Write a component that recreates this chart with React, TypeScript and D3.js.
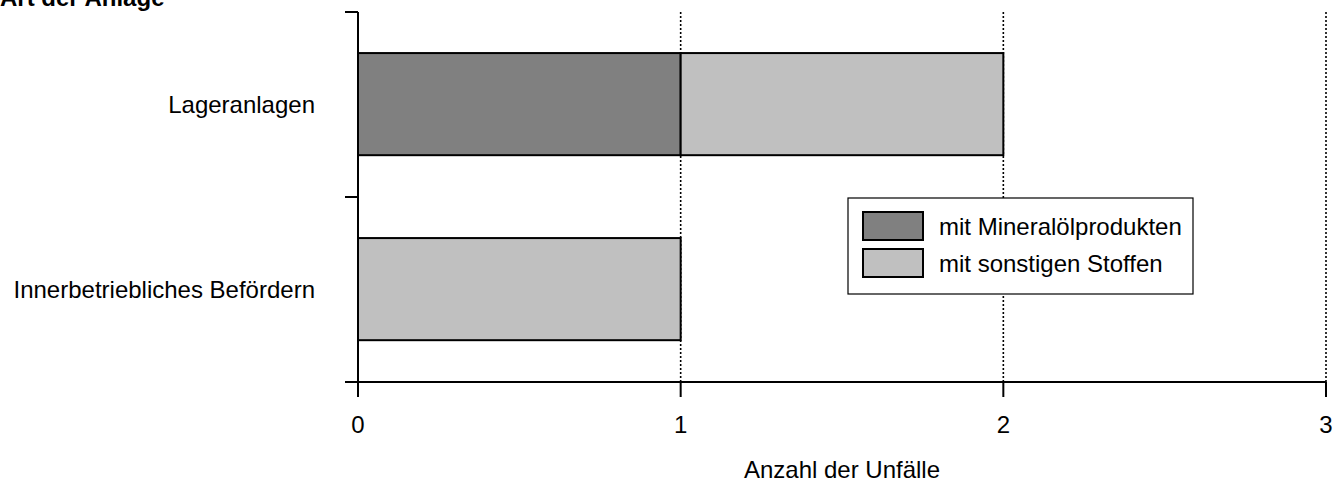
import React from "react";
import * as d3 from "d3";

const categories = ["Lageranlagen", "Innerbetriebliches Befördern"];
const seriesNames = ["mit Mineralölprodukten", "mit sonstigen Stoffen"];
const mineraloel = [1, 0];
const sonstige = [1, 1];
const xTicks = [0, 1, 2, 3];
const seriesColors = ["#808080", "#c0c0c0"];

const W = 1335;
const H = 483;
const FONT = "'Liberation Sans', Arial, sans-serif";

export default function App() {
  const x = d3.scaleLinear().domain([0, 3]).range([358, 1326]);
  const y = d3.scaleBand<string>().domain(categories).range([12, 382]).padding(0);
  const bw = y.bandwidth();
  const barInset = bw * 0.222;
  const barH = bw * 0.552;

  const stack = d3.stack<number>().keys(["0", "1"]).value((i, k) => (k === "0" ? mineraloel[i] : sonstige[i]));
  const stacked = stack(categories.map((_, i) => i));

  const yBounds = [12, 12 + bw, 382];

  return (
    <svg width={W} height={H} style={{ position: "absolute", left: 0, top: 0, background: "#fff" }} fontFamily={FONT}>
      <text x={0} y={6} fontSize={24} fontWeight="bold" fill="#000">Art der Anlage</text>

      {/* grid lines */}
      {xTicks.filter((t) => t > 0).map((t) => (
        <line key={"g" + t} x1={x(t)} x2={x(t)} y1={12} y2={382} stroke="#000" strokeWidth={1.6} strokeDasharray="2,2" />
      ))}

      {/* bars */}
      {stacked.map((layer, si) =>
        layer.map((d, ci) => {
          const w = x(d[1]) - x(d[0]);
          if (w <= 0) return null;
          return (
            <rect key={si + "-" + ci} x={x(d[0])} y={(y(categories[ci]) as number) + barInset} width={w} height={barH}
              fill={seriesColors[si]} stroke="#000" strokeWidth={2} />
          );
        })
      )}

      {/* y axis */}
      <line x1={358} x2={358} y1={12} y2={382} stroke="#000" strokeWidth={2} />
      {yBounds.map((yy, i) => (
        <line key={"yt" + i} x1={345} x2={358} y1={yy} y2={yy} stroke="#000" strokeWidth={2} />
      ))}
      {categories.map((c) => (
        <text key={c} x={315} y={(y(c) as number) + bw / 2 + 8.5} textAnchor="end" fontSize={24} fill="#000">{c}</text>
      ))}

      {/* x axis */}
      <line x1={345} x2={x(3)} y1={382} y2={382} stroke="#000" strokeWidth={2} />
      {xTicks.map((t) => (
        <g key={"xt" + t}>
          <line x1={x(t)} x2={x(t)} y1={382} y2={397} stroke="#000" strokeWidth={2} />
          <text x={x(t)} y={433} textAnchor="middle" fontSize={24} fill="#000">{t}</text>
        </g>
      ))}
      <text x={(x(0) + x(3)) / 2} y={478} textAnchor="middle" fontSize={24} fill="#000">Anzahl der Unfälle</text>

      {/* legend */}
      <rect x={848} y={198} width={345} height={96} fill="#fff" stroke="#000" strokeWidth={1.2} />
      {seriesNames.map((s, i) => (
        <g key={s}>
          <rect x={863} y={212 + i * 37} width={60} height={28} fill={seriesColors[i]} stroke="#000" strokeWidth={2} />
          <text x={939} y={235 + i * 37} fontSize={24} fill="#000">{s}</text>
        </g>
      ))}
    </svg>
  );
}
